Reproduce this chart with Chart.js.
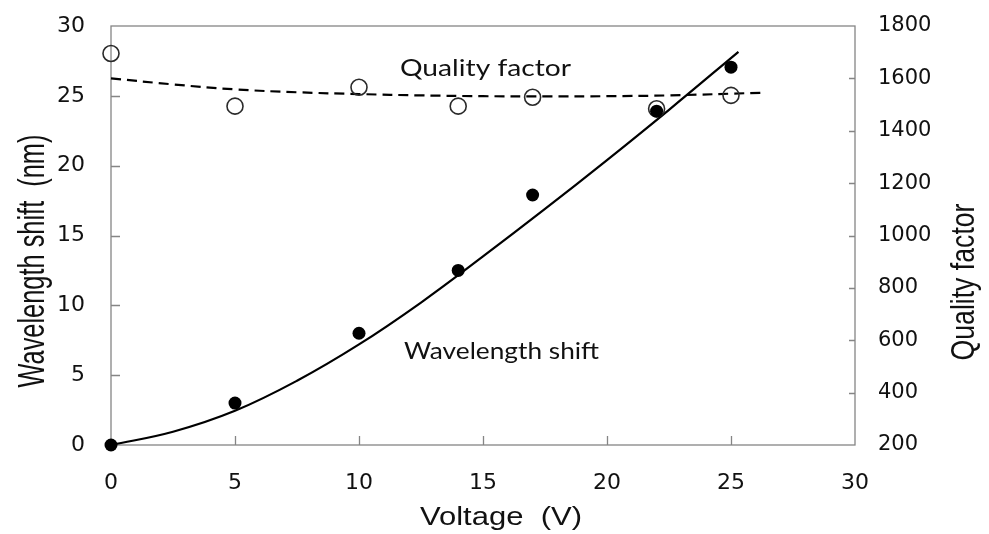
<!DOCTYPE html>
<html>
<head>
<meta charset="utf-8">
<title>Wavelength shift / Quality factor</title>
<script src="https://cdn.jsdelivr.net/npm/chart.js@4.4.1/dist/chart.umd.min.js"></script>
<style>
    html, body { margin: 0; padding: 0; background: #fff; }
    #wrap { width: 989px; height: 534px; }
</style>
</head>
<body>
<div id="wrap"><canvas id="grafico" width="989" height="534"></canvas></div>
<script>
// measured points
var voltage = [0, 5, 10, 14, 17, 22, 25];
var wavelengthShift = [0, 3, 8, 12.5, 17.9, 23.9, 27.05];
var qualityFactor = [1695, 1494, 1566, 1494, 1528, 1484, 1535];

// fit curves
var fitVoltage = [0, 2.5, 5, 7.5, 10, 12.5, 15, 17.5, 20, 22.5, 25.3];
var fitShift = [0, 0.95, 2.45, 4.6, 7.2, 10.2, 13.5, 16.9, 20.4, 24.0, 28.15];
var fitQVoltage = [0, 2.5, 5, 7.5, 10, 12.5, 15, 17.5, 20, 22.5, 26.2];
var fitQuality = [1600, 1577, 1558, 1547, 1540, 1535, 1532, 1531, 1532, 1535, 1545];

// tick labels
var xTicks = [0, 5, 10, 15, 20, 25, 30];
var yTicks = [0, 5, 10, 15, 20, 25, 30];
var qTicks = [200, 400, 600, 800, 1000, 1200, 1400, 1600, 1800];

// text labels inside the plot (data units) and axis titles (pixels)
var etichette = [
    {text: 'Quality factor', x: 15.1, y: 27.0, size: 24, width: 171},
    {text: 'Wavelength shift', x: 15.75, y: 6.8, size: 24, width: 195}
];
var titoli = [
    {text: 'Voltage  (V)', cx: 501, cy: 516, rot: 0, size: 25, length: 162},
    {text: 'Wavelength shift  (nm)', cx: 31, cy: 261, rot: -90, length: 253, thick: 1.45},
    {text: 'Quality factor', cx: 962, cy: 282, rot: -90, length: 157, thick: 1.25}
];

function costruisciPunti(xs, ys){
    var punti = [];
    for (var i = 0; i < xs.length; i++) {
        punti.push({x: xs[i], y: ys[i]});
    }
    return punti;
}

function impostaTick(valori){
    return function(scale){
        var t = [];
        for (var i = 0; i < valori.length; i++) {
            t.push({value: valori[i]});
        }
        scale.ticks = t;
    };
}

function scriviTesto(ctx, testo, cx, cy, rot, size, family, sx){
    ctx.save();
    ctx.font = size + 'px "' + family + '"';
    ctx.translate(cx, cy);
    ctx.scale(sx, 1);
    ctx.rotate(rot * Math.PI / 180);
    ctx.textAlign = 'center';
    ctx.textBaseline = 'alphabetic';
    ctx.fillText(testo, 0, size * 0.716 / 2);
    ctx.restore();
}

var decorazioni = {
    id: 'decorazioni',
    beforeDatasetsDraw: function(chart){
        var ctx = chart.ctx;
        var a = chart.chartArea;
        ctx.save();
        ctx.strokeStyle = '#858585';
        ctx.lineWidth = 1.3;
        ctx.strokeRect(a.left, a.top, a.right - a.left, a.bottom - a.top);
        ctx.beginPath();
        var i, p;
        for (i = 1; i < xTicks.length - 1; i++) {
            p = Math.round(chart.scales.x.getPixelForValue(xTicks[i])) + 0.5;
            ctx.moveTo(p, a.bottom);
            ctx.lineTo(p, a.bottom - 9);
        }
        for (i = 1; i < yTicks.length - 1; i++) {
            p = Math.round(chart.scales.y.getPixelForValue(yTicks[i])) + 0.5;
            ctx.moveTo(a.left, p);
            ctx.lineTo(a.left + 9, p);
        }
        for (i = 1; i < qTicks.length - 1; i++) {
            p = Math.round(chart.scales.y1.getPixelForValue(qTicks[i])) + 0.5;
            ctx.moveTo(a.right, p);
            ctx.lineTo(a.right - 6, p);
        }
        ctx.stroke();
        ctx.restore();
    },
    afterDraw: function(chart){
        var ctx = chart.ctx;
        ctx.save();
        ctx.fillStyle = '#111';
        var i, e, w;
        for (i = 0; i < etichette.length; i++) {
            e = etichette[i];
            ctx.font = e.size + 'px "Lato"';
            w = ctx.measureText(e.text).width;
            scriviTesto(ctx, e.text,
                chart.scales.x.getPixelForValue(e.x),
                chart.scales.y.getPixelForValue(e.y),
                0, e.size, 'Lato', e.width / w);
        }
        for (i = 0; i < titoli.length; i++) {
            e = titoli[i];
            if (e.rot === 0) {
                ctx.font = e.size + 'px "Liberation Sans"';
                w = ctx.measureText(e.text).width;
                scriviTesto(ctx, e.text, e.cx, e.cy, 0, e.size, 'Liberation Sans', e.length / w);
            } else {
                ctx.font = '20px "Liberation Sans"';
                w = ctx.measureText(e.text).width;
                var size = 20 * e.length / w;
                scriviTesto(ctx, e.text, e.cx, e.cy, e.rot, size, 'Liberation Sans', e.thick);
            }
        }
        ctx.restore();
    }
};

// no extra padding from the tick labels, the plot box is fixed
function senzaPaddingVerticale(larghezza){
    return function(scale){
        scale.width = larghezza;
        scale.paddingTop = 0;
        scale.paddingBottom = 0;
    };
}

Chart.defaults.font.family = 'DejaVu Sans';
Chart.defaults.color = '#111';

var ctx = document.getElementById('grafico');
var chart = new Chart(ctx, {
    type: 'scatter',
    data: {
        datasets: [{
            label: 'Wavelength shift',
            data: costruisciPunti(voltage, wavelengthShift),
            yAxisID: 'y',
            pointRadius: 6.5,
            pointBackgroundColor: '#000',
            pointBorderWidth: 0,
            clip: false,
            order: 0
        }, {
            label: 'Quality factor',
            data: costruisciPunti(voltage, qualityFactor),
            yAxisID: 'y1',
            pointRadius: 8,
            pointBackgroundColor: 'rgba(255,255,255,0)',
            pointBorderColor: '#2a2a2a',
            pointBorderWidth: 1.6,
            clip: false,
            order: 1
        }, {
            label: 'Wavelength shift fit',
            type: 'line',
            data: costruisciPunti(fitVoltage, fitShift),
            yAxisID: 'y',
            borderColor: '#000',
            borderWidth: 2.2,
            pointRadius: 0,
            tension: 0.4,
            fill: false,
            clip: false,
            order: 2
        }, {
            label: 'Quality factor fit',
            type: 'line',
            data: costruisciPunti(fitQVoltage, fitQuality),
            yAxisID: 'y1',
            borderColor: '#000',
            borderWidth: 2.2,
            borderDash: [10, 6],
            pointRadius: 0,
            tension: 0.4,
            fill: false,
            clip: false,
            order: 3
        }]
    },
    options: {
        responsive: false,
        animation: false,
        devicePixelRatio: 1,
        layout: { padding: { top: 26, left: 0, right: 0, bottom: 0 } },
        plugins: {
            legend: { display: false },
            tooltip: { enabled: false }
        },
        events: [],
        scales: {
            x: {
                type: 'linear',
                min: 0,
                max: 30,
                grid: { display: false, drawTicks: false },
                border: { display: false },
                afterBuildTicks: impostaTick(xTicks),
                afterFit: function(scale){
                    scale.height = 89;
                    scale.paddingLeft = 0;
                    scale.paddingRight = 0;
                },
                ticks: {
                    padding: 25,
                    font: { size: 22 },
                    callback: function(v){ return String(v); }
                }
            },
            y: {
                type: 'linear',
                position: 'left',
                min: 0,
                max: 30,
                grid: { display: false, drawTicks: false },
                border: { display: false },
                afterBuildTicks: impostaTick(yTicks),
                afterFit: senzaPaddingVerticale(111),
                ticks: {
                    padding: 26,
                    font: { size: 22 },
                    callback: function(v){ return String(v); }
                }
            },
            y1: {
                type: 'linear',
                position: 'right',
                min: 200,
                max: 1800,
                grid: { display: false, drawTicks: false },
                border: { display: false },
                afterBuildTicks: impostaTick(qTicks),
                afterFit: senzaPaddingVerticale(134),
                ticks: {
                    padding: 23,
                    font: { size: 21 },
                    callback: function(v){ return String(v); }
                }
            }
        }
    },
    plugins: [decorazioni]
});
</script>
</body>
</html>
